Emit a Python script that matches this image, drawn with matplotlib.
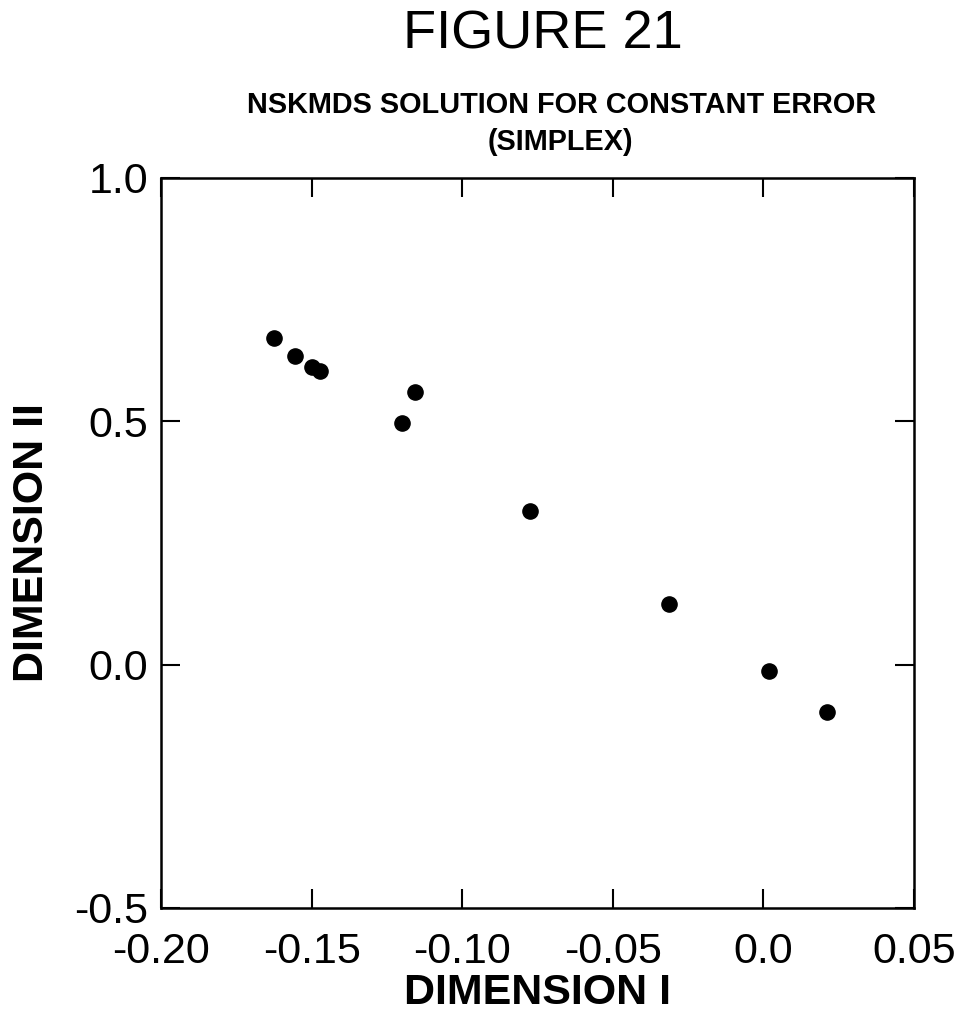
import matplotlib.pyplot as plt

# coordinates
dim1 = [-0.1625, -0.1555, -0.1499, -0.1472, -0.1157, -0.1200, -0.0775, -0.0313, 0.0019, 0.0211]
dim2 = [0.671, 0.634, 0.612, 0.603, 0.560, 0.497, 0.316, 0.125, -0.013, -0.097]

xticks = [-0.20, -0.15, -0.10, -0.05, 0.0, 0.05]
xticklabels = ["-0.20", "-0.15", "-0.10", "-0.05", "0.0", "0.05"]
yticks = [-0.5, 0.0, 0.5, 1.0]
yticklabels = ["-0.5", "0.0", "0.5", "1.0"]

plt.rcParams["font.family"] = ["Liberation Sans", "DejaVu Sans"]

fig = plt.figure(figsize=(9.64, 10.21), dpi=100)
ax = fig.add_axes([0.167, 0.1107, 0.781, 0.715])

ax.scatter(dim1, dim2, s=120, color="black", zorder=3)

ax.set_xlim(-0.20, 0.05)
ax.set_ylim(-0.5, 1.0)
ax.set_xticks(xticks)
ax.set_xticklabels(xticklabels)
ax.set_yticks(yticks)
ax.set_yticklabels(yticklabels)

ax.tick_params(axis="both", direction="in", length=14, width=1.5,
               top=True, right=True, labelsize=31)
ax.tick_params(axis="x", pad=17)
ax.tick_params(axis="y", pad=9)
for spine in ax.spines.values():
    spine.set_linewidth(1.8)

ax.set_xlabel("DIMENSION I", fontsize=31, weight="bold", labelpad=1)
ax.set_ylabel("DIMENSION II", fontsize=31, weight="bold", labelpad=16)

# titles
fig.text(0.563, 0.966, "FIGURE 21", fontsize=39, ha="center", va="center")
fig.text(0.583, 0.897, "NSKMDS SOLUTION FOR CONSTANT ERROR", fontsize=20.8,
         weight="bold", ha="center", va="center")
fig.text(0.581, 0.861, "(SIMPLEX)", fontsize=20.8, weight="bold", ha="center", va="center")

fig.savefig("out.png", dpi=100)
